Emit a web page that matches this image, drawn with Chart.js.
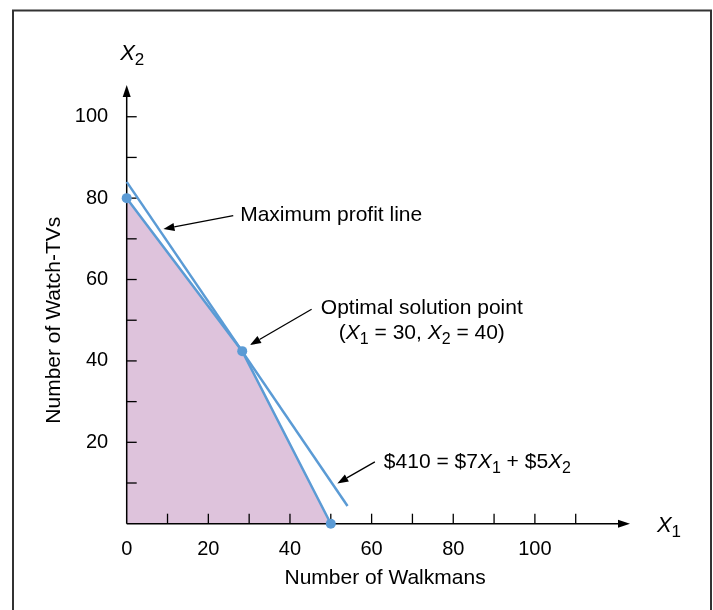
<!DOCTYPE html>
<html>
<head>
<meta charset="utf-8">
<script src="https://cdn.jsdelivr.net/npm/chart.js@4.4.1/dist/chart.umd.min.js"></script>
<style>
  html, body { margin: 0; padding: 0; background: #ffffff; }
  #wrap { width: 713px; height: 610px; }
</style>
</head>
<body>
<div id="wrap"><canvas id="c" width="713" height="610"></canvas></div>
<script>
// ---- data ----
const xTickLabels = [0, 20, 40, 60, 80, 100];
const yTickLabels = [20, 40, 60, 80, 100];
const minorTicks = [10, 20, 30, 40, 50, 60, 70, 80, 90, 100, 110];
const feasibleCorners = [ {x: 0, y: 80}, {x: 28.3, y: 42.4}, {x: 50, y: 0} ];
const profitLine = [ {x: 0, y: 84}, {x: 54.1, y: 4.35} ];
const xAxisMax = 123.3;
const yAxisMax = 107.8;

const FONT = '"Liberation Sans", Arial, Helvetica, sans-serif';
const BLUE = '#5b9bd5';
const FILL = '#dec3dc';
const TXT = 21;

function segFont(s, size) {
  if (s[1] === 'i') return 'italic ' + size + 'px ' + FONT;
  if (s[1] === 's') return Math.round(size * 0.75) + 'px ' + FONT;
  return size + 'px ' + FONT;
}
function richWidth(ctx, segs, size) {
  let w = 0;
  for (const s of segs) { ctx.font = segFont(s, size); w += ctx.measureText(s[0]).width; }
  return w;
}
function drawRich(ctx, segs, x, y, align, size) {
  const w = richWidth(ctx, segs, size);
  let cx = align === 'center' ? x - w / 2 : (align === 'right' ? x - w : x);
  ctx.textAlign = 'left';
  ctx.textBaseline = 'middle';
  ctx.fillStyle = '#000';
  for (const s of segs) {
    ctx.font = segFont(s, size);
    const dy = s[1] === 's' ? size * 0.3 : 0;
    ctx.fillText(s[0], cx, y + dy);
    cx += ctx.measureText(s[0]).width;
  }
}
function arrow(ctx, x1, y1, x2, y2) {
  ctx.save();
  ctx.strokeStyle = '#000'; ctx.fillStyle = '#000'; ctx.lineWidth = 1.3;
  const a = Math.atan2(y2 - y1, x2 - x1);
  const L = 11, W = 4;
  const bx = x2 - L * Math.cos(a), by = y2 - L * Math.sin(a);
  ctx.beginPath(); ctx.moveTo(x1, y1); ctx.lineTo(bx, by); ctx.stroke();
  ctx.beginPath();
  ctx.moveTo(x2, y2);
  ctx.lineTo(bx + W * Math.sin(a), by - W * Math.cos(a));
  ctx.lineTo(bx - W * Math.sin(a), by + W * Math.cos(a));
  ctx.closePath(); ctx.fill();
  ctx.restore();
}

const decor = {
  id: 'decor',
  beforeDraw(chart) {
    const ctx = chart.ctx;
    ctx.save();
    ctx.strokeStyle = '#333';
    ctx.lineWidth = 2;
    ctx.beginPath(); ctx.moveTo(13, 610); ctx.lineTo(13, 10.5); ctx.lineTo(711, 10.5); ctx.lineTo(711, 610); ctx.stroke();
    ctx.restore();
  },
  beforeDatasetsDraw(chart) {
    const ctx = chart.ctx;
    const xs = chart.scales.x, ys = chart.scales.y;
    const x0 = xs.getPixelForValue(0), y0 = ys.getPixelForValue(0);
    const xEnd = xs.getPixelForValue(xAxisMax), yEnd = ys.getPixelForValue(yAxisMax);
    ctx.save();
    ctx.strokeStyle = '#000'; ctx.fillStyle = '#000'; ctx.lineWidth = 1.5;
    ctx.beginPath(); ctx.moveTo(x0, y0); ctx.lineTo(xEnd - 8, y0); ctx.stroke();
    ctx.beginPath(); ctx.moveTo(x0, y0); ctx.lineTo(x0, yEnd + 8); ctx.stroke();
    ctx.beginPath(); ctx.moveTo(xEnd, y0); ctx.lineTo(xEnd - 12, y0 - 4); ctx.lineTo(xEnd - 12, y0 + 4); ctx.closePath(); ctx.fill();
    ctx.beginPath(); ctx.moveTo(x0, yEnd); ctx.lineTo(x0 - 4, yEnd + 12); ctx.lineTo(x0 + 4, yEnd + 12); ctx.closePath(); ctx.fill();
    ctx.lineWidth = 1.3;
    for (const v of minorTicks) {
      const px = xs.getPixelForValue(v);
      ctx.beginPath(); ctx.moveTo(px, y0); ctx.lineTo(px, y0 - 10); ctx.stroke();
      if (v <= 100) {
        const py = ys.getPixelForValue(v);
        ctx.beginPath(); ctx.moveTo(x0, py); ctx.lineTo(x0 + 10, py); ctx.stroke();
      }
    }
    ctx.restore();
  },
  afterDraw(chart) {
    const ctx = chart.ctx;
    const xs = chart.scales.x, ys = chart.scales.y;
    const X = v => xs.getPixelForValue(v), Y = v => ys.getPixelForValue(v);
    ctx.save();
    ctx.fillStyle = '#000';
    ctx.font = TXT + 'px ' + FONT;
    ctx.textAlign = 'center'; ctx.textBaseline = 'middle';
    ctx.fillText('Number of Walkmans', X(63.3), 578);
    ctx.save();
    ctx.translate(54, Y(50));
    ctx.rotate(-Math.PI / 2);
    ctx.fillText('Number of Watch-TVs', 0, 0);
    ctx.restore();
    drawRich(ctx, [['X', 'i'], ['1', 's']], X(129.9), Y(-0.5), 'left', 22);
    drawRich(ctx, [['X', 'i'], ['2', 's']], X(-1.6), Y(115.5), 'left', 22);
    drawRich(ctx, [['Maximum profit line', 'n']], X(27.8), Y(75.7), 'left', TXT);
    arrow(ctx, X(26.1), Y(75.7), X(9.0), Y(72.4));
    drawRich(ctx, [['Optimal solution point', 'n']], X(72.3), Y(53.0), 'center', TXT);
    drawRich(ctx, [['(', 'n'], ['X', 'i'], ['1', 's'], [' = 30, ', 'n'], ['X', 'i'], ['2', 's'], [' = 40)', 'n']], X(72.3), Y(46.9), 'center', TXT);
    arrow(ctx, X(45.3), Y(52.7), X(30.2), Y(43.9));
    drawRich(ctx, [['$410 = $7', 'n'], ['X', 'i'], ['1', 's'], [' + $5', 'n'], ['X', 'i'], ['2', 's']], X(63.0), Y(15.2), 'left', TXT);
    arrow(ctx, X(60.8), Y(15.2), X(51.6), Y(9.9));
    ctx.restore();
  }
};

new Chart(document.getElementById('c'), {
  type: 'scatter',
  data: {
    datasets: [
      {
        label: 'Feasible region',
        data: feasibleCorners,
        showLine: true,
        borderColor: BLUE,
        borderWidth: 2.5,
        backgroundColor: FILL,
        fill: 'origin',
        pointRadius: 5,
        pointBackgroundColor: BLUE,
        pointBorderWidth: 0,
        clip: false,
        tension: 0
      },
      {
        label: 'Maximum profit line',
        data: profitLine,
        showLine: true,
        borderColor: BLUE,
        borderWidth: 2.5,
        fill: false,
        pointRadius: 0,
        clip: false
      }
    ]
  },
  options: {
    responsive: false,
    animation: false,
    devicePixelRatio: 1,
    layout: { padding: { top: 85, right: 83, left: 0, bottom: 0 } },
    plugins: {
      legend: { display: false },
      tooltip: { enabled: false },
      filler: { drawTime: 'beforeDatasetsDraw' }
    },
    scales: {
      x: {
        type: 'linear', min: 0, max: xAxisMax,
        grid: { display: false }, border: { display: false },
        afterBuildTicks: s => { s.ticks = xTickLabels.map(v => ({ value: v })); },
        afterFit: s => { s.height = 610 - 523.7; },
        ticks: { color: '#000', font: { size: 20, family: FONT }, padding: 5.5, maxRotation: 0 }
      },
      y: {
        type: 'linear', min: 0, max: yAxisMax,
        grid: { display: false }, border: { display: false },
        afterBuildTicks: s => { s.ticks = yTickLabels.map(v => ({ value: v })); },
        afterFit: s => { s.width = 126.7; },
        ticks: { color: '#000', font: { size: 20, family: FONT }, padding: 10.5 }
      }
    }
  },
  plugins: [decor]
});
</script>
</body>
</html>
